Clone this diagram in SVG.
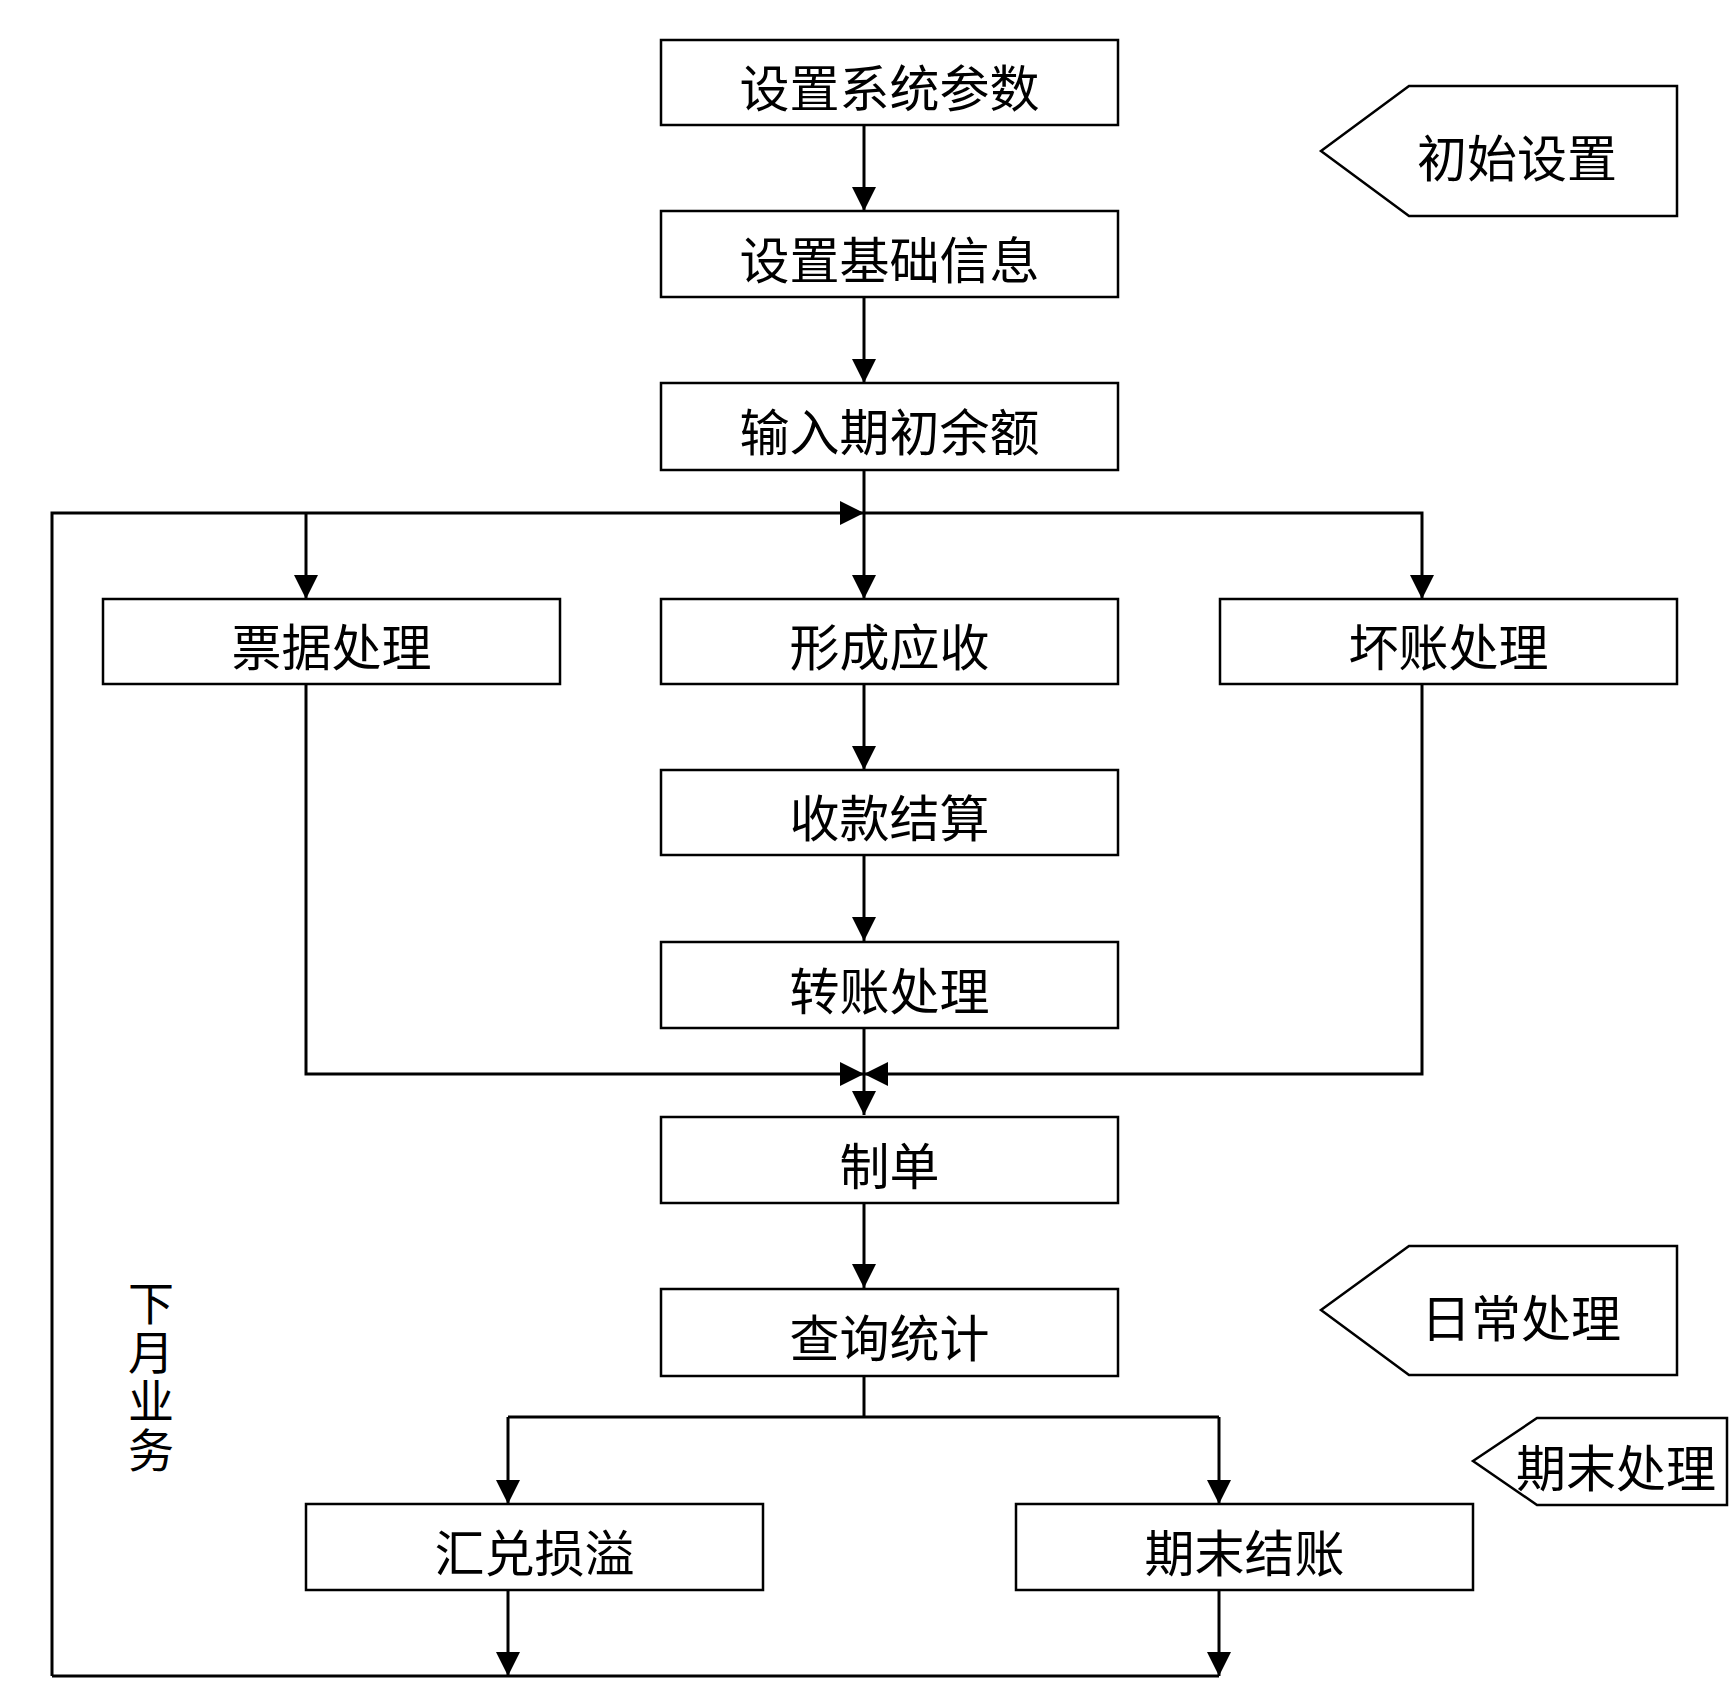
<svg xmlns="http://www.w3.org/2000/svg" width="1733" height="1683" viewBox="0 0 1733 1683">
<style>
.box{fill:#fff;stroke:#000;stroke-width:2.5}
.t{font-family:"Noto Sans CJK SC","Noto Sans",sans-serif;font-size:50px;fill:#000;text-anchor:middle;dominant-baseline:central}
.v{font-family:"Noto Sans CJK SC","Noto Sans",sans-serif;font-size:46px;fill:#000;text-anchor:middle;writing-mode:vertical-rl;letter-spacing:3px}
.c{fill:none;stroke:#000;stroke-width:3}
</style>
<defs>
<marker id="ah" markerUnits="userSpaceOnUse" markerWidth="25" markerHeight="25" refX="24" refY="12" orient="auto" viewBox="0 0 25 24">
<path d="M0,0 L24,12 L0,24 z" fill="#000"/>
</marker>
</defs>
<g id="connectors">
<path class="c" d="M864,125 V211" marker-end="url(#ah)"/>
<path class="c" d="M864,297 V383" marker-end="url(#ah)"/>
<path class="c" d="M864,470 V599" marker-end="url(#ah)"/>
<path class="c" d="M864,513 H1422 V599" marker-end="url(#ah)"/>
<path class="c" d="M306,513 V599" marker-end="url(#ah)"/>
<path class="c" d="M52,1676 V513 H864" marker-end="url(#ah)"/>
<path class="c" d="M864,684 V770" marker-end="url(#ah)"/>
<path class="c" d="M864,855 V941" marker-end="url(#ah)"/>
<path class="c" d="M864,1028 V1115" marker-end="url(#ah)"/>
<path class="c" d="M306,684 V1074 H864" marker-end="url(#ah)"/>
<path class="c" d="M1422,684 V1074 H864" marker-end="url(#ah)"/>
<path class="c" d="M864,1203 V1288" marker-end="url(#ah)"/>
<path class="c" d="M864,1376 V1417"/>
<path class="c" d="M508,1417 H1219"/>
<path class="c" d="M508,1417 V1504" marker-end="url(#ah)"/>
<path class="c" d="M1219,1417 V1504" marker-end="url(#ah)"/>
<path class="c" d="M508,1590 V1676" marker-end="url(#ah)"/>
<path class="c" d="M1219,1590 V1676" marker-end="url(#ah)"/>
<path class="c" d="M52,1676 H1219"/>
</g>
<g id="n1"><rect class="box" x="661" y="40" width="457" height="85"/><text class="t" x="889.5" y="85">设置系统参数</text></g>
<g id="n2"><rect class="box" x="661" y="211" width="457" height="86"/><text class="t" x="889.5" y="257">设置基础信息</text></g>
<g id="n3"><rect class="box" x="661" y="383" width="457" height="87"/><text class="t" x="889.5" y="429">输入期初余额</text></g>
<g id="n4"><rect class="box" x="103" y="599" width="457" height="85"/><text class="t" x="331.5" y="644">票据处理</text></g>
<g id="n5"><rect class="box" x="661" y="599" width="457" height="85"/><text class="t" x="889.5" y="644">形成应收</text></g>
<g id="n6"><rect class="box" x="1220" y="599" width="457" height="85"/><text class="t" x="1448.5" y="644">坏账处理</text></g>
<g id="n7"><rect class="box" x="661" y="770" width="457" height="85"/><text class="t" x="889.5" y="815">收款结算</text></g>
<g id="n8"><rect class="box" x="661" y="942" width="457" height="86"/><text class="t" x="889.5" y="988">转账处理</text></g>
<g id="n9"><rect class="box" x="661" y="1117" width="457" height="86"/><text class="t" x="889.5" y="1163">制单</text></g>
<g id="n10"><rect class="box" x="661" y="1289" width="457" height="87"/><text class="t" x="889.5" y="1335">查询统计</text></g>
<g id="n11"><rect class="box" x="306" y="1504" width="457" height="86"/><text class="t" x="534.5" y="1550">汇兑损溢</text></g>
<g id="n12"><rect class="box" x="1016" y="1504" width="457" height="86"/><text class="t" x="1244.5" y="1550">期末结账</text></g>
<g id="tag1"><polygon class="box" points="1321,151 1409,86 1677,86 1677,216 1409,216"/><text class="t" x="1517" y="155">初始设置</text></g>
<g id="tag2"><polygon class="box" points="1321,1310 1409,1246 1677,1246 1677,1375 1409,1375"/><text class="t" x="1521" y="1315">日常处理</text></g>
<g id="tag3"><polygon class="box" points="1473,1461 1537,1418 1727,1418 1727,1505 1537,1505"/><text class="t" x="1616" y="1465">期末处理</text></g>
<g id="label-next-month">
<text class="v" x="151" y="1378">下月业务</text>
</g>
</svg>
